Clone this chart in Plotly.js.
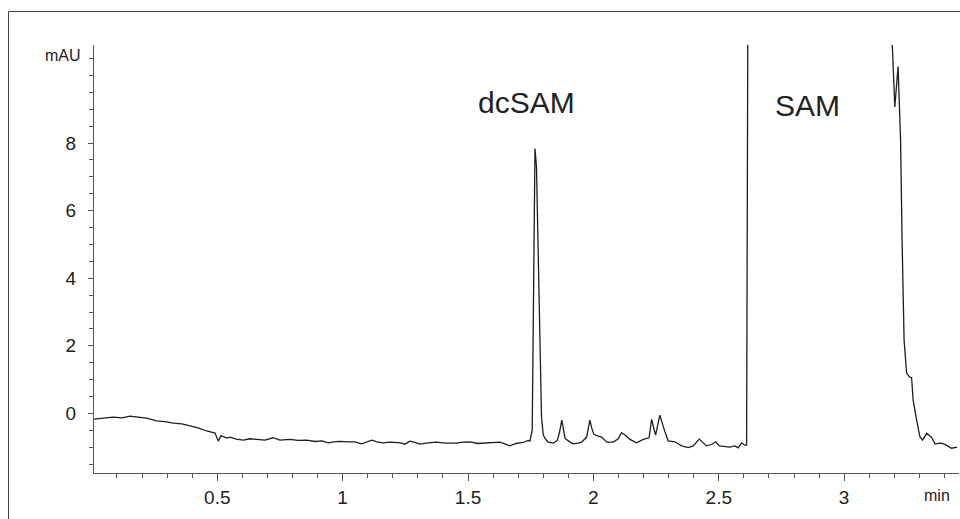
<!DOCTYPE html>
<html>
<head>
<meta charset="utf-8">
<script src="https://cdn.plot.ly/plotly-3.0.1.min.js"></script>
<style>html,body{margin:0;padding:0;background:#fff;}#chart{width:960px;height:519px;}</style>
</head>
<body>
<div id="chart"></div>
<script>
// Retention time (min)
var time = [
  0.008,0.032,0.085,0.12,0.152,0.184,0.218,0.258,0.291,0.325,0.359,0.391,0.423,0.458,0.479,0.491,
  0.504,0.515,0.524,0.539,0.551,0.575,0.604,0.630,0.657,0.690,0.723,0.750,0.790,0.822,0.856,0.890,
  0.917,0.943,0.965,0.989,1.021,1.049,1.076,1.093,1.116,1.137,1.161,1.189,1.215,1.233,1.248,1.268,
  1.288,1.308,1.340,1.375,1.412,1.455,1.480,1.508,1.539,1.574,1.599,1.627,1.647,1.667,1.691,1.720,
  1.740,1.747,1.756,1.762,1.767,1.773,1.779,1.787,1.793,1.800,1.811,1.820,1.840,1.856,1.865,1.874,
  1.881,1.887,1.907,1.919,1.938,1.953,1.973,1.986,1.994,2.002,2.014,2.033,2.053,2.079,2.099,2.112,
  2.130,2.146,2.172,2.199,2.222,2.232,2.248,2.265,2.285,2.298,2.325,2.352,2.378,2.398,2.422,2.451,
  2.471,2.488,2.502,2.544,2.564,2.577,2.591,2.604,2.611,2.616,3.186,3.202,3.215,3.225,3.231,3.239,
  3.249,3.259,3.269,3.275,3.289,3.302,3.313,3.329,3.349,3.362,3.388,3.408,3.428,3.451
];
// Absorbance (mAU)
var absorbance = [
  -0.17,-0.15,-0.11,-0.13,-0.08,-0.11,-0.14,-0.22,-0.24,-0.29,-0.31,-0.37,-0.43,-0.52,-0.56,-0.58,
  -0.82,-0.66,-0.69,-0.73,-0.70,-0.76,-0.79,-0.75,-0.77,-0.79,-0.72,-0.79,-0.77,-0.80,-0.79,-0.83,
  -0.81,-0.87,-0.84,-0.83,-0.84,-0.84,-0.90,-0.86,-0.79,-0.84,-0.87,-0.85,-0.85,-0.87,-0.91,-0.82,
  -0.86,-0.91,-0.87,-0.85,-0.88,-0.88,-0.85,-0.84,-0.89,-0.88,-0.87,-0.85,-0.90,-0.96,-0.89,-0.86,
  -0.80,-0.82,-0.49,3.5,7.84,7.3,4.8,1.6,-0.1,-0.64,-0.78,-0.85,-0.88,-0.80,-0.55,-0.20,
  -0.45,-0.74,-0.85,-0.90,-0.88,-0.85,-0.70,-0.20,-0.45,-0.62,-0.66,-0.70,-0.85,-0.85,-0.75,-0.57,
  -0.66,-0.77,-0.87,-0.77,-0.72,-0.18,-0.64,-0.05,-0.54,-0.81,-0.84,-0.96,-1.01,-0.96,-0.76,-0.96,
  -0.92,-0.84,-0.96,-1.00,-0.96,-1.02,-0.87,-0.94,-0.94,12,12,9.07,10.26,8.09,5.13,2.17,
  1.20,1.09,1.05,0.40,-0.20,-0.69,-0.79,-0.59,-0.71,-0.90,-0.88,-0.94,-1.03,-1.00
];
var xTickVals = [0.5, 1, 1.5, 2, 2.5, 3];
var xTickText = ["0.5", "1", "1.5", "2", "2.5", "3"];
var yTickVals = [0, 2, 4, 6, 8];
var yTickText = ["0", "2", "4", "6", "8"];
var peakLabels = ["dcSAM", "SAM"];
var yUnit = "mAU";
var xUnit = "min";

var font = "Liberation Sans, Arial, Helvetica, sans-serif";
var ink = "#222";

var trace = {
  x: time, y: absorbance, type: "scatter", mode: "lines",
  line: {color: "#1e1e1e", width: 1.3}, hoverinfo: "skip"
};

var W = 960, H = 519, L = 94, R = 1, T = 45, B = 46;
var pw = W - L - R, ph = H - T - B;
function px(x) { return (x - L) / pw; }
function py(y) { return (H - B - y) / ph; }

var layout = {
  width: W, height: H,
  margin: {l: L, r: R, t: T, b: B, pad: 0},
  paper_bgcolor: "#fff", plot_bgcolor: "#fff",
  showlegend: false,
  xaxis: {
    range: [0.0084, 3.458], showgrid: false, zeroline: false,
    showline: true, linecolor: "#555", linewidth: 1,
    ticks: "outside", ticklen: 7, tickwidth: 1, tickcolor: "#555",
    tickmode: "array", tickvals: xTickVals, ticktext: xTickText,
    tickfont: {family: font, size: 19, color: ink},
    minor: {tickmode: "linear", tick0: 0, dtick: 0.1, ticks: "outside", ticklen: 4, tickcolor: "#555", tickwidth: 1, showgrid: false}
  },
  yaxis: {
    range: [-1.763, 10.9], showgrid: false, zeroline: false,
    showline: true, linecolor: "#555", linewidth: 1,
    ticks: "outside", ticklen: 5, tickwidth: 1, tickcolor: "#555",
    tickmode: "array", tickvals: yTickVals, ticktext: yTickText,
    tickfont: {family: font, size: 19, color: ink},
    ticklabelstandoff: 8,
    minor: {tickmode: "linear", tick0: 0, dtick: 0.5, ticks: "outside", ticklen: 4, tickcolor: "#555", tickwidth: 1, showgrid: false}
  },
  annotations: [
    {text: peakLabels[0], xref: "paper", yref: "paper", x: px(526), y: py(103), xanchor: "center", yanchor: "middle", showarrow: false, font: {family: font, size: 30, color: ink}},
    {text: peakLabels[1], xref: "paper", yref: "paper", x: px(807.5), y: py(105), xanchor: "center", yanchor: "middle", showarrow: false, font: {family: font, size: 30, color: ink}},
    {text: yUnit, xref: "paper", yref: "paper", x: px(83), y: py(56), xanchor: "right", yanchor: "middle", showarrow: false, font: {family: font, size: 16, color: ink}},
    {text: xUnit, xref: "paper", yref: "paper", x: px(937), y: py(495), xanchor: "center", yanchor: "middle", showarrow: false, font: {family: font, size: 16, color: ink}}
  ],
  shapes: [
    {type: "rect", xref: "paper", yref: "paper", x0: px(8.5), x1: px(975), y0: py(560), y1: py(11.5), line: {color: "#444", width: 1}, fillcolor: "rgba(0,0,0,0)", layer: "below"}
  ]
};

Plotly.newPlot("chart", [trace], layout, {displayModeBar: false, staticPlot: true});
</script>
</body>
</html>
